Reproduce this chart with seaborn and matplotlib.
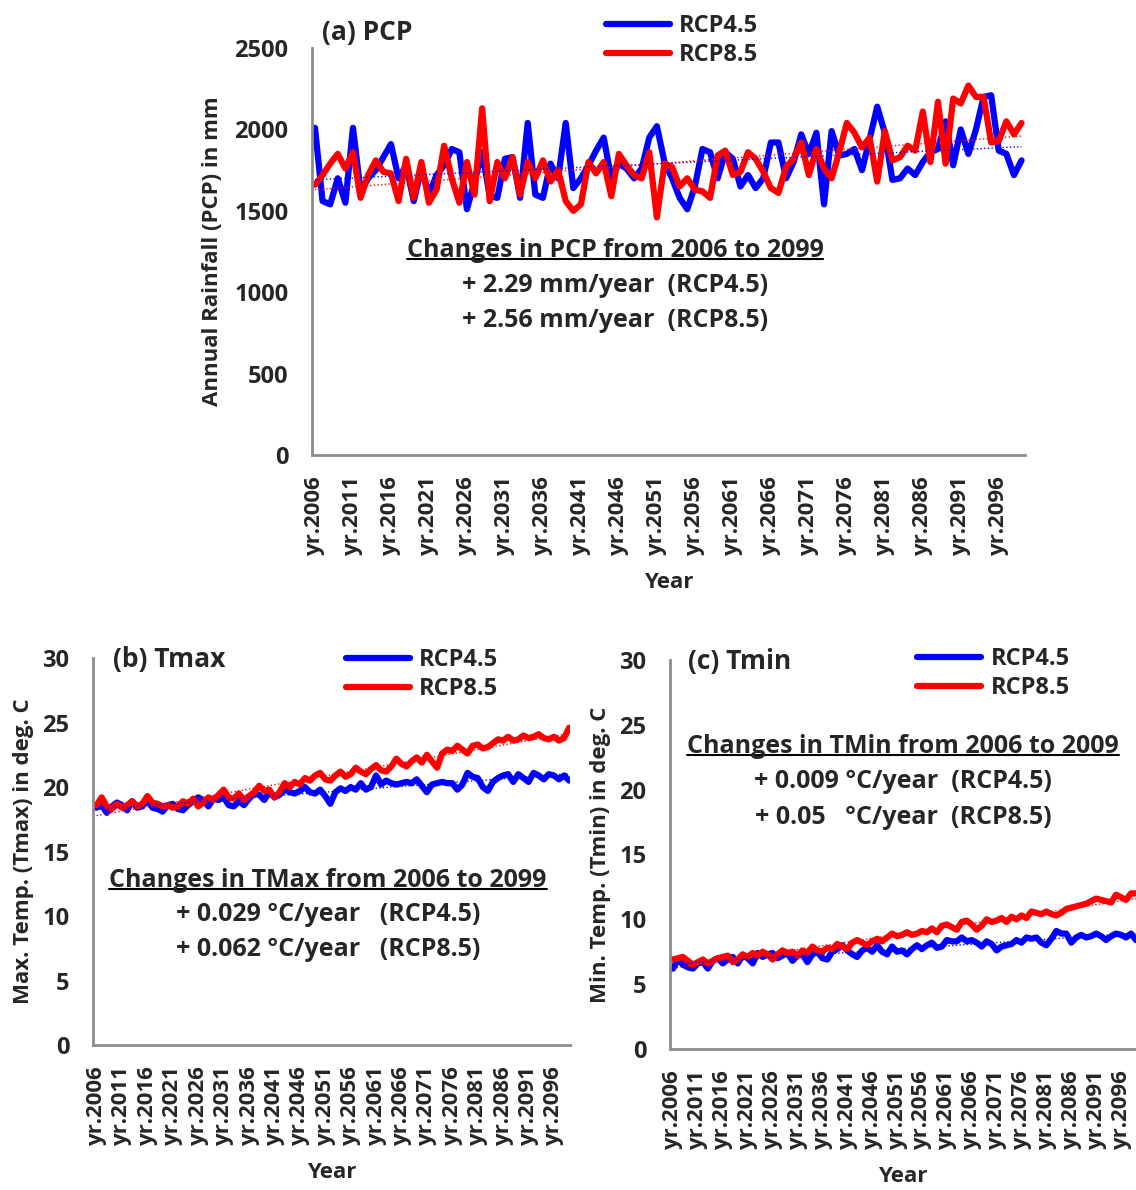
import numpy as np
import pandas as pd
import matplotlib
matplotlib.use("Agg")
import matplotlib.pyplot as plt
import seaborn as sns
from matplotlib.lines import Line2D

years = list(range(2006, 2100))

pcp_rcp45 = [2010, 1560, 1540, 1700, 1550, 2010, 1620, 1700, 1750, 1830,
             1910, 1700, 1780, 1560, 1760, 1600, 1720, 1780, 1880, 1860,
             1510, 1680, 1860, 1590, 1580, 1820, 1830, 1580, 2040, 1600,
             1580, 1790, 1700, 2040, 1640, 1700, 1780, 1870, 1950, 1700,
             1790, 1760, 1700, 1760, 1950, 2020, 1800, 1700, 1580, 1510,
             1650, 1880, 1860, 1700, 1860, 1820, 1650, 1720, 1640, 1700,
             1920, 1920, 1700, 1800, 1970, 1850, 1980, 1540, 1990, 1840,
             1850, 1880, 1750, 1940, 2140, 1980, 1690, 1700, 1760, 1720,
             1800, 1860, 1880, 2050, 1780, 2000, 1850, 2000, 2200, 2210,
             1870, 1850, 1720, 1810]
pcp_rcp85 = [1660, 1720, 1790, 1850, 1760, 1860, 1580, 1720, 1810, 1740,
             1730, 1560, 1820, 1580, 1800, 1550, 1630, 1900, 1700, 1550,
             1800, 1600, 2130, 1560, 1800, 1700, 1830, 1600, 1800, 1700,
             1810, 1680, 1750, 1560, 1500, 1540, 1800, 1730, 1800, 1590,
             1850, 1780, 1720, 1700, 1860, 1460, 1790, 1770, 1650, 1700,
             1630, 1620, 1580, 1840, 1870, 1720, 1740, 1860, 1820, 1740,
             1640, 1610, 1770, 1820, 1920, 1720, 1880, 1760, 1700, 1860,
             2040, 1980, 1890, 1950, 1680, 1990, 1810, 1830, 1900, 1870,
             2110, 1800, 2170, 1790, 2190, 2160, 2270, 2200, 2200, 1920,
             1930, 2050, 1970, 2040]

tmax_rcp45 = [18.4, 18.6, 18.0, 18.5, 18.8, 18.6, 18.2, 18.9, 18.4, 18.5,
              19.0, 18.4, 18.3, 18.1, 18.6, 18.7, 18.3, 18.2, 18.6, 18.9,
              19.2, 19.0, 18.5, 19.1, 19.0, 19.2, 18.6, 18.5, 18.9, 18.6,
              19.1, 19.5, 19.4, 19.0, 19.6, 19.2, 19.4, 19.8, 19.6, 19.5,
              19.7, 20.0, 19.6, 19.5, 19.8, 19.3, 18.7, 19.6, 19.9, 19.7,
              20.0, 19.8, 20.3, 19.8, 20.0, 20.9, 20.2, 20.5, 20.3, 20.2,
              20.3, 20.4, 20.3, 20.6, 20.1, 19.6, 20.2, 20.3, 20.4, 20.3,
              20.3, 19.8, 20.2, 21.1, 20.8, 20.7, 20.0, 19.7, 20.4, 20.7,
              20.9, 21.0, 20.4, 21.0, 20.7, 20.4, 21.1, 20.9, 20.6, 21.0,
              20.9, 20.6, 20.9, 20.5]
tmax_rcp85 = [18.6, 19.2, 18.5, 18.3, 18.7, 18.4, 18.6, 18.9, 18.5, 18.7,
              19.3, 18.8, 18.7, 18.5, 18.6, 18.4, 18.5, 18.9, 18.7, 19.1,
              18.5, 18.8, 19.2, 19.0, 19.4, 19.8, 19.2, 19.1, 19.5, 19.0,
              19.3, 19.6, 20.1, 19.7, 19.8, 19.2, 19.6, 20.3, 20.0, 20.4,
              20.2, 20.7, 20.5, 20.9, 21.1, 20.6, 20.5, 20.9, 21.2, 20.8,
              21.0, 21.5, 21.2, 21.0, 21.4, 21.7, 21.3, 21.2, 21.6, 22.2,
              21.8, 21.6, 22.0, 22.3, 21.9, 22.5, 22.0, 21.5, 22.6, 22.9,
              22.8, 23.2, 22.9, 22.6, 23.2, 23.3, 23.0, 23.1, 23.4, 23.7,
              23.6, 23.9, 23.6, 23.7, 24.0, 23.8, 23.9, 24.1, 23.8, 23.7,
              23.9, 23.6, 23.8, 24.6]

tmin_rcp45 = [6.2, 6.9, 6.5, 6.3, 6.2, 6.6, 6.7, 6.2, 6.8, 7.0,
              6.6, 6.9, 7.1, 6.6, 7.2, 7.0, 6.6, 7.4, 7.1, 7.3,
              7.4, 7.0, 7.2, 7.4, 6.8, 7.2, 7.3, 6.7, 7.3, 7.5,
              7.0, 6.9, 7.5, 7.7, 8.0, 7.6, 7.3, 7.1, 7.6, 7.8,
              7.5, 8.0, 7.5, 7.3, 7.9, 7.5, 7.6, 7.3, 7.7, 8.0,
              7.7, 8.0, 8.2, 7.8, 7.9, 8.4, 8.3, 8.3, 8.6, 8.3,
              8.4, 8.2, 7.9, 8.3, 8.1, 7.6, 7.9, 8.0, 8.1, 8.4,
              8.2, 8.6, 8.5, 8.6, 8.2, 8.0, 8.5, 9.1, 8.9, 8.9,
              8.2, 8.6, 8.8, 8.6, 8.7, 8.9, 8.7, 8.4, 8.7, 8.9,
              8.8, 8.6, 8.9, 8.4]
tmin_rcp85 = [6.9, 7.0, 7.1, 6.8, 6.5, 6.7, 6.9, 6.6, 6.8, 7.0,
              7.1, 7.2, 6.7, 6.9, 7.3, 7.1, 7.4, 7.2, 7.5, 7.3,
              6.9, 7.3, 7.6, 7.4, 7.5, 7.2, 7.6, 7.4, 7.9, 7.6,
              7.5, 7.8, 7.7, 8.1, 7.9, 7.7, 8.2, 8.4, 8.2, 8.0,
              8.3, 8.5, 8.3, 8.6, 8.9, 8.7, 8.8, 9.0, 8.8, 8.9,
              9.1, 9.0, 9.3, 9.0, 9.5, 9.6, 9.4, 9.2, 9.8, 9.9,
              9.6, 9.2, 9.5, 10.0, 9.8, 9.9, 10.1, 9.8, 10.2, 10.0,
              10.3, 10.1, 10.6, 10.5, 10.4, 10.6, 10.4, 10.3, 10.5, 10.8,
              10.9, 11.0, 11.1, 11.2, 11.4, 11.6, 11.5, 11.4, 11.3, 11.9,
              11.7, 11.5, 12.0, 12.0]

scenarios = ["RCP4.5", "RCP8.5"]
colors = {"RCP4.5": "#0000ff", "RCP8.5": "#ff0000"}

sns.set_style("white")
plt.rcParams["font.family"] = ["Open Sans", "DejaVu Sans"]
plt.rcParams["font.weight"] = "bold"

GRAY = "#8c8c8c"


def to_frame(s45, s85, name):
	df = pd.DataFrame({"year": years, "RCP4.5": s45, "RCP8.5": s85})
	return df.melt(id_vars="year", var_name="scenario", value_name=name)


def draw_panel(fig, rect, s45, s85, name, ylim, yticks, xlim):
	ax = fig.add_axes(rect)
	df = to_frame(s45, s85, name)
	sns.lineplot(data=df, x="year", y=name, hue="scenario", hue_order=scenarios,
		palette=colors, linewidth=4.5, legend=False, ax=ax)
	# linear trend lines
	for sc, vals in zip(scenarios, [s45, s85]):
		k, b = np.polyfit(years, vals, 1)
		ax.plot(years, np.polyval([k, b], years), color=colors[sc], lw=1.0, ls=":")
	ax.set_xlim(*xlim)
	ax.set_ylim(*ylim)
	ax.set_yticks(yticks)
	ax.set_xticks(years)
	ax.set_xticklabels([f"yr.{y}" if (y - 2006) % 5 == 0 else "" for y in years],
		rotation=90, fontsize=16, fontweight="bold")
	for lab in ax.get_yticklabels():
		lab.set_fontsize(17)
		lab.set_fontweight("bold")
	ax.tick_params(axis="x", direction="out", length=7, width=1.2, color=GRAY, pad=8)
	ax.tick_params(axis="y", direction="out", length=7, width=1.5, color=GRAY, pad=10)
	for side in ["top", "right"]:
		ax.spines[side].set_visible(False)
	for side in ["left", "bottom"]:
		ax.spines[side].set_color(GRAY)
		ax.spines[side].set_linewidth(2)
	ax.set_xlabel("Year", fontsize=16, fontweight="bold", labelpad=12)
	return ax


def add_legend(fig, ax, x, y):
	handles = ax.get_lines()[:2]
	fig.legend(handles, scenarios, loc="upper left", bbox_to_anchor=(x, y),
		frameon=False, handlelength=2.7, labelspacing=0.2, borderpad=0,
		handletextpad=0.4, prop={"size": 17, "weight": "bold"})


def underline(fig, txt):
	fig.canvas.draw()
	bb = txt.get_window_extent().transformed(fig.transFigure.inverted())
	fig.add_artist(Line2D([bb.x0, bb.x1], [bb.y0 + 0.003, bb.y0 + 0.003],
		transform=fig.transFigure, color="black", lw=1.5))


def text_block(fig, x, ys, lines):
	first = None
	for yy, line in zip(ys, lines):
		t = fig.text(x, yy, line, ha="center", va="center", fontsize=18, fontweight="bold")
		if first is None:
			first = t
	underline(fig, first)


fig = plt.figure(figsize=(11.36, 11.90), dpi=100)

ax_a = draw_panel(fig, [0.2746, 0.6176, 0.6280, 0.3420], pcp_rcp45, pcp_rcp85,
	"pcp", (0, 2500), range(0, 2501, 500), (2005.6, 2099.5))
ax_a.set_ylabel("Annual Rainfall (PCP) in mm", fontsize=16, fontweight="bold", labelpad=8)

ax_b = draw_panel(fig, [0.0819, 0.1218, 0.4200, 0.3252], tmax_rcp45, tmax_rcp85,
	"tmax", (0, 30), range(0, 31, 5), (2005.3, 2099.2))
ax_b.set_ylabel("Max. Temp. (Tmax) in deg. C", fontsize=16, fontweight="bold", labelpad=6)

ax_c = draw_panel(fig, [0.5898, 0.1185, 0.4102, 0.3269], tmin_rcp45, tmin_rcp85,
	"tmin", (0, 30), range(0, 31, 5), (2005.4, 2099.0))
ax_c.set_ylabel("Min. Temp. (Tmin) in deg. C", fontsize=16, fontweight="bold", labelpad=6)

fig.text(0.2835, 0.9731, "(a) PCP", fontsize=19, fontweight="bold", va="center")
fig.text(0.0995, 0.4454, "(b) Tmax", fontsize=19, fontweight="bold", va="center")
fig.text(0.6056, 0.4437, "(c) Tmin", fontsize=19, fontweight="bold", va="center")

add_legend(fig, ax_a, 0.523, 0.998)
add_legend(fig, ax_b, 0.294, 0.465)
add_legend(fig, ax_c, 0.797, 0.466)

text_block(fig, 0.5414, [0.7899, 0.7597, 0.7303],
	["Changes in PCP from 2006 to 2099",
	 "+ 2.29 mm/year  (RCP4.5)",
	 "+ 2.56 mm/year  (RCP8.5)"])
text_block(fig, 0.2887, [0.2605, 0.2311, 0.2017],
	["Changes in TMax from 2006 to 2099",
	 "+ 0.029 °C/year   (RCP4.5)",
	 "+ 0.062 °C/year   (RCP8.5)"])
text_block(fig, 0.7949, [0.3731, 0.3429, 0.3134],
	["Changes in TMin from 2006 to 2009",
	 "+ 0.009 °C/year  (RCP4.5)",
	 "+ 0.05   °C/year  (RCP8.5)"])

fig.savefig("out.png", dpi=100)
plt.close(fig)
